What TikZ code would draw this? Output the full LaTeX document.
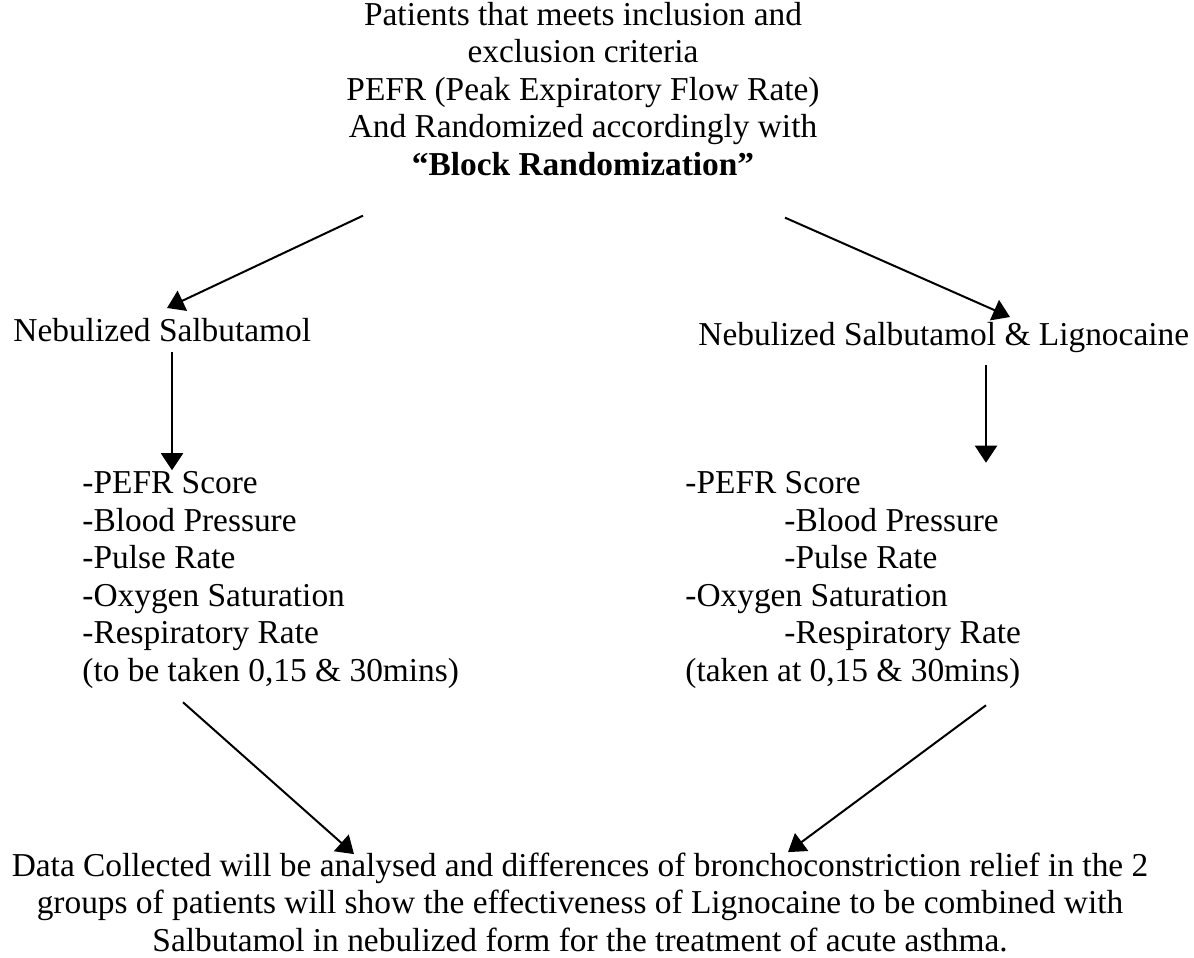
\documentclass[tikz,border=0pt]{standalone}
\usepackage{fontspec}
\setmainfont{Liberation Serif}
\usepackage{tikz}
\usetikzlibrary{arrows.meta, positioning}

\begin{document}
\begin{tikzpicture}[
        x=0.5pt, y=-0.5pt,
        every node/.style={
            inner sep=0pt, font=\fontsize{16.7}{18.75}\selectfont
        },
        arrow/.style={-{Triangle[length=8.5pt,width=11pt]}, line width=1pt}
    ]
        \useasboundingbox (0,0) rectangle (1194,958);

        % Text blocks
        \node (rand) [align=center] at (583,89) {Patients that meets inclusion and\\
            exclusion criteria\\ PEFR (Peak Expiratory Flow Rate)\\
            And Randomized accordingly with\\ \textbf{“Block Randomization”}};
        \node (sal) [anchor=base west] at (13,341) {Nebulized Salbutamol};
        \node (lig) [anchor=base west] at (698,345) {Nebulized Salbutamol \& Lignocaine};
        \node (salobs) [align=left, anchor=west] at (82,580) {-PEFR Score\\
            -Blood Pressure\\ -Pulse Rate\\ -Oxygen Saturation\\
            -Respiratory Rate\\ (to be taken 0,15 \& 30mins)};
        \node (ligobs) [align=left, anchor=west] at (685,580) {-PEFR Score\\
            \hspace*{49.5pt}-Blood Pressure\\ \hspace*{49.5pt}-Pulse Rate\\
            -Oxygen Saturation\\ \hspace*{49.5pt}-Respiratory Rate\\
            (taken at 0,15 \& 30mins)};
        \node (result) [align=center] at (580,902) {Data Collected will be analysed and differences of bronchoconstriction relief in the 2\\
            groups of patients will show the effectiveness of Lignocaine to be combined with\\
            Salbutamol in nebulized form for the treatment of acute asthma.};

        % Connectors
        \draw[arrow] ([xshift=-110pt,yshift=-19.75pt]rand.south) -- ([xshift=77pt,yshift=16.5pt]sal.base west);
        \draw[arrow] ([xshift=101pt,yshift=-20.75pt]rand.south) -- ([xshift=156pt,yshift=14pt]lig.base west);
        \draw[arrow] ([xshift=79.5pt,yshift=-5.5pt]sal.base west) -- ([xshift=45pt,yshift=0.5pt]salobs.north west);
        \draw[arrow] ([xshift=144pt,yshift=-10pt]lig.base west) -- ([xshift=150.5pt,yshift=4.25pt]ligobs.north west);
        \draw[arrow] ([xshift=50.5pt,yshift=-6.75pt]salobs.south west) -- ([xshift=-113pt,yshift=-1pt]result.north);
        \draw[arrow] ([xshift=150.5pt,yshift=-8.25pt]ligobs.south west) -- ([xshift=104pt]result.north);

    \end{tikzpicture}
\end{document}
